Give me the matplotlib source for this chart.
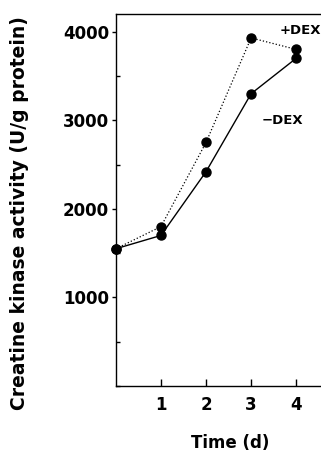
import numpy as np
import matplotlib.pyplot as plt
from matplotlib.ticker import MultipleLocator

plt.rcParams['font.family'] = 'DejaVu Sans'
plt.rcParams['font.weight'] = 'bold'

# data
days = [0, 1, 2, 3, 4]
minus_dex = [1550, 1700, 2420, 3300, 3700]
plus_dex = [1550, 1800, 2750, 3930, 3800]
xticks = [1, 2, 3, 4]
yticks = [1000, 2000, 3000, 4000]

ftsz = 12

fig = plt.figure(figsize=(3.21, 4.51), dpi=100)
ax = fig.add_axes([0.361, 0.144, 0.66, 0.825])

ax.plot(days, plus_dex, color='black', linestyle=':', linewidth=0.9,
        marker='o', markersize=6.5, clip_on=False, zorder=3)
ax.plot(days, minus_dex, color='black', linestyle='-', linewidth=1.0,
        marker='o', markersize=6.5, clip_on=False, zorder=3)

ax.text(4.1, 4010, '+DEX', fontsize=9.5, fontweight='bold', ha='center', va='center')
ax.text(3.69, 3000, '\u2212DEX', fontsize=9.5, fontweight='bold', ha='center', va='center')

ax.set_xlim(0, 4.7)
ax.set_ylim(0, 4200)
ax.set_xticks(xticks)
ax.set_yticks(yticks)
ax.yaxis.set_minor_locator(MultipleLocator(500))

ax.spines['right'].set_visible(False)
for s in ['left', 'top', 'bottom']:
    ax.spines[s].set_linewidth(1.0)

ax.tick_params(axis='x', direction='in', length=5, width=1, pad=7, labelsize=ftsz)
ax.tick_params(axis='y', which='major', direction='out', length=3, width=1, pad=2, labelsize=ftsz)
ax.tick_params(axis='y', which='minor', direction='in', length=3, width=1)
for lab in ax.get_xticklabels() + ax.get_yticklabels():
    lab.set_fontweight('bold')

ax.set_xlabel('Time (d)', fontsize=ftsz, fontweight='bold')
ax.xaxis.set_label_coords(0.538, -0.128)
ax.set_ylabel('Creatine kinase activity (U/g protein)', fontsize=13.5,
              fontweight='bold')
ax.yaxis.set_label_coords(-0.41, 0.465)

plt.savefig('out.png', dpi=100)
